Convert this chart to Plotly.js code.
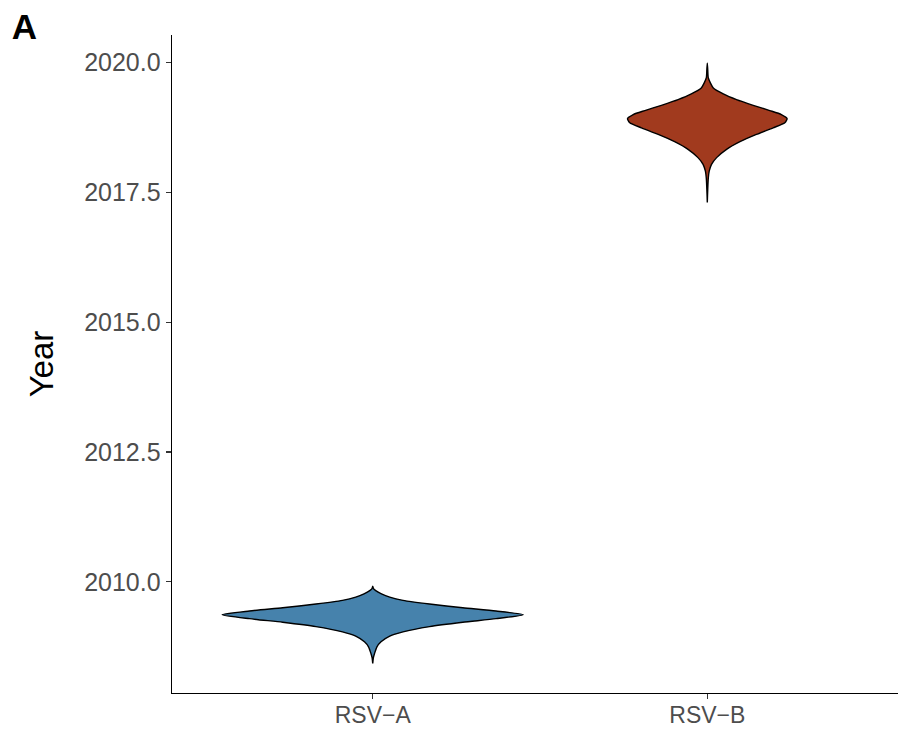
<!DOCTYPE html>
<html>
<head>
<meta charset="utf-8">
<script src="https://cdn.plot.ly/plotly-3.0.1.min.js"></script>
<style>html,body{margin:0;padding:0;background:#fff;}#chart{width:898px;height:730px;}</style>
</head>
<body>
<div id="chart"></div>
<script>
// Categories
const categories = ["RSV\u2212A", "RSV\u2212B"];
const fillColors = ["#4682AC", "#A13A1E"];

// Density profile of RSV-A (year, relative density)
const yearsA = [2009.918, 2009.870, 2009.831, 2009.770, 2009.707, 2009.644, 2009.573, 2009.502, 2009.439, 2009.368,
                2009.291, 2009.222, 2009.138, 2009.036, 2008.954, 2008.845, 2008.749, 2008.621, 2008.538, 2008.429];
const densA  = [0, 0.005, 0.020, 0.058, 0.113, 0.201, 0.377, 0.598, 0.819, 1.000,
                0.819, 0.598, 0.377, 0.201, 0.113, 0.055, 0.028, 0.012, 0.004, 0];

// Density profile of RSV-B
const yearsB = [2019.989, 2019.860, 2019.701, 2019.510, 2019.395, 2019.285, 2019.176, 2019.075, 2018.998, 2018.921,
                2018.839, 2018.743, 2018.615, 2018.475, 2018.328, 2018.169, 2018.040, 2017.912, 2017.785, 2017.561, 2017.307];
const densB  = [0, 0.003, 0.007, 0.040, 0.106, 0.194, 0.305, 0.415, 0.492, 0.530,
                0.515, 0.437, 0.326, 0.217, 0.128, 0.062, 0.028, 0.013, 0.007, 0.003, 0];

// Y axis ticks
const yTicks = [2010, 2012.5, 2015, 2017.5, 2020];

const halfWidth = 0.45; // violin max half-width in category units

function violinTrace(pos, years, dens, color) {
  const xs = [], ys = [];
  for (let i = 0; i < years.length; i++) { xs.push(pos + halfWidth * dens[i]); ys.push(years[i]); }
  for (let i = years.length - 1; i >= 0; i--) { xs.push(pos - halfWidth * dens[i]); ys.push(years[i]); }
  return {
    type: 'scatter', mode: 'lines', x: xs, y: ys,
    fill: 'toself', fillcolor: color,
    line: {color: '#000000', width: 1.4, shape: 'spline', smoothing: 0.6},
    hoverinfo: 'skip', showlegend: false
  };
}

const data = [
  violinTrace(1, yearsA, densA, fillColors[0]),
  violinTrace(2, yearsB, densB, fillColors[1])
];

const font = "'Liberation Sans', Arial, Helvetica, sans-serif";
const layout = {
  width: 898, height: 730,
  margin: {l: 172, r: 0, t: 35, b: 37, pad: 0},
  paper_bgcolor: '#ffffff', plot_bgcolor: '#ffffff',
  showlegend: false,
  title: {text: '<b>A</b>', font: {family: font, size: 35, color: '#000000'},
          xref: 'container', yref: 'container', x: 0.013, xanchor: 'left', y: 0.963, yanchor: 'middle'},
  xaxis: {
    range: [0.4, 2.57], tickvals: [1, 2], ticktext: categories,
    showgrid: false, zeroline: false, showline: true, linecolor: '#000000', linewidth: 1.4,
    ticks: 'outside', ticklen: 5, tickwidth: 1.2, tickcolor: '#333333',
    ticklabelstandoff: -4,
    tickfont: {family: font, size: 23, color: '#4D4D4D'}
  },
  yaxis: {
    range: [2007.86, 2020.53], tickvals: yTicks, tickformat: '.1f',
    showgrid: false, zeroline: false, showline: true, linecolor: '#000000', linewidth: 1.4,
    ticks: 'outside', ticklen: 5, tickwidth: 1.2, tickcolor: '#333333',
    tickfont: {family: font, size: 25, color: '#4D4D4D'},
    title: {text: 'Year', font: {family: font, size: 33, color: '#000000'}, standoff: 20}
  }
};

Plotly.newPlot('chart', data, layout, {displayModeBar: false, staticPlot: true});
</script>
</body>
</html>
